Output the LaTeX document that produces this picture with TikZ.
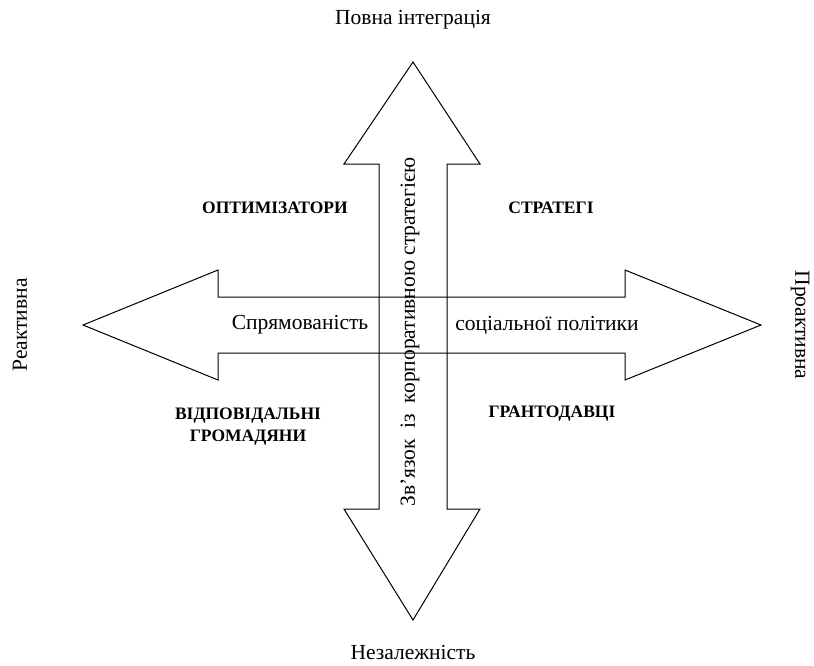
\documentclass[tikz,border=0pt]{standalone}
\usepackage{fontspec}
\setmainfont{Liberation Serif}[BoldFont={Liberation Serif Bold}]
\begin{document}
\begin{tikzpicture}[x=1pt,y=-1pt,
  arrowshape/.style={draw=black, line width=1pt, line join=miter},
  lbl/.style={font=\fontsize{21.5}{25}\selectfont, inner sep=0pt},
  quad/.style={font=\fontsize{17.5}{22}\selectfont\bfseries, inner sep=0pt, align=center}]
\useasboundingbox (0,0) rectangle (814,665);
% vertical double arrow
\draw[arrowshape] (413,62) -- (480,164) -- (447,164) -- (447,509) -- (480,509) -- (413,620)
  -- (344,509) -- (379,509) -- (379,164) -- (344,164) -- cycle;
% horizontal double arrow
\draw[arrowshape] (83,325) -- (218,270) -- (218,297) -- (625,297) -- (625,270) -- (761,325)
  -- (625,380) -- (625,353) -- (218,353) -- (218,380) -- cycle;
% axis labels
\node[lbl] (top) at (413,20) {Повна інтеграція};
\node[lbl] (bottom) at (413,652) {Незалежність};
\node[lbl, rotate=90] (left) at (20,325) {Реактивна};
\node[lbl, rotate=-90] (right) at (800,325) {Проактивна};
% arrow texts
\node[lbl] (h1) at (300,325) {Спрямованість};
\node[lbl] (h2) at (547,325) {соціальної політики};
\node[lbl, rotate=90] (v) at (410,332) {Зв’язок\ \ із\ \ корпоративною стратегією};
% quadrant labels
\node[quad] (q1) at (275,208) {ОПТИМІЗАТОРИ};
\node[quad] (q2) at (551,208) {СТРАТЕГІ};
\node[quad] (q3) at (248,427) {ВІДПОВІДАЛЬНІ\\ГРОМАДЯНИ};
\node[quad] (q4) at (552,414) {ГРАНТОДАВЦІ};
\end{tikzpicture}
\end{document}
